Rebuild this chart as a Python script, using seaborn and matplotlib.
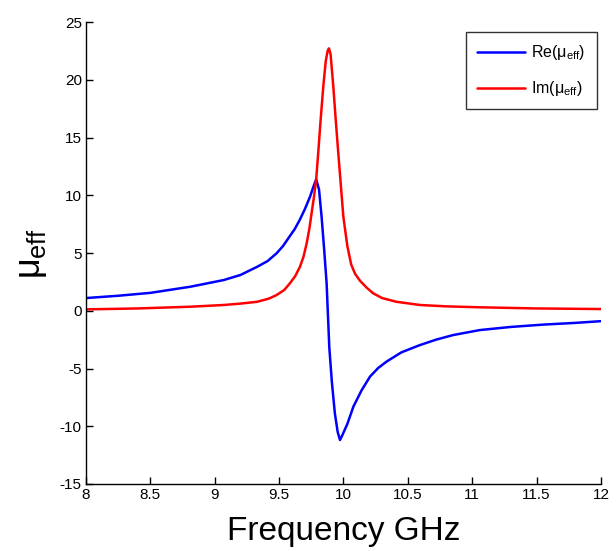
import matplotlib
matplotlib.use("Agg")
import matplotlib.pyplot as plt
import seaborn as sns
import pandas as pd

# Frequencies (GHz) and values
freq_re = [8.0, 8.25, 8.5, 8.81, 9.07, 9.2, 9.33, 9.41, 9.48, 9.53, 9.58, 9.62, 9.66, 9.70,
           9.74, 9.765, 9.788, 9.81, 9.83, 9.85, 9.869, 9.89, 9.91, 9.933, 9.955, 9.973,
           9.99, 10.03, 10.077, 10.14, 10.206, 10.27, 10.335, 10.45, 10.594, 10.72, 10.853,
           11.06, 11.3, 11.55, 11.8, 12.0]
re_mu = [1.1, 1.3, 1.55, 2.08, 2.66, 3.1, 3.81, 4.3, 4.97, 5.6, 6.41, 7.05, 7.86, 8.8,
         9.87, 10.7, 11.38, 10.5, 8.14, 5.3, 2.38, -3.2, -6.2, -8.88, -10.5, -11.19,
         -10.8, -9.8, -8.3, -6.9, -5.7, -4.95, -4.4, -3.6, -2.97, -2.5, -2.1,
         -1.67, -1.4, -1.2, -1.05, -0.9]

freq_im = [8.0, 8.4, 8.81, 9.07, 9.2, 9.33, 9.42, 9.48, 9.54, 9.584, 9.625, 9.662, 9.69,
           9.714, 9.735, 9.753, 9.77, 9.788, 9.804, 9.823, 9.843, 9.862, 9.877, 9.887, 9.9,
           9.921, 9.94, 9.96, 9.98, 9.999, 10.03, 10.06, 10.09, 10.128, 10.18, 10.231, 10.3,
           10.41, 10.594, 10.8, 11.06, 11.5, 12.0]
im_mu = [0.12, 0.2, 0.35, 0.5, 0.62, 0.78, 1.05, 1.36, 1.8, 2.38, 3.0, 3.81, 4.7,
         5.84, 7.1, 8.5, 9.8, 11.38, 13.7, 16.6, 19.4, 21.6, 22.5, 22.72, 22.2,
         19.4, 16.5, 13.6, 10.8, 8.14, 5.6, 4.0, 3.2, 2.6, 2.0, 1.51, 1.1,
         0.78, 0.5, 0.38, 0.3, 0.2, 0.15]

series_labels = [r"Re($\mu_{\mathregular{eff}}$)", r"Im($\mu_{\mathregular{eff}}$)"]
x_ticks = [8, 8.5, 9, 9.5, 10, 10.5, 11, 11.5, 12]
x_ticklabels = ["8", "8.5", "9", "9.5", "10", "10.5", "11", "11.5", "12"]
y_ticks = [-15, -10, -5, 0, 5, 10, 15, 20, 25]

sns.set_style("ticks")
plt.rcParams["font.family"] = ["Liberation Sans", "DejaVu Sans"]
plt.rcParams["mathtext.fontset"] = "custom"
plt.rcParams["mathtext.rm"] = "Liberation Sans"
plt.rcParams["mathtext.it"] = "Liberation Sans"
plt.rcParams["axes.unicode_minus"] = False
plt.rcParams["xtick.direction"] = "in"
plt.rcParams["ytick.direction"] = "in"
plt.rcParams["text.color"] = "black"
plt.rcParams["axes.labelcolor"] = "black"
plt.rcParams["xtick.color"] = "black"
plt.rcParams["ytick.color"] = "black"

fig = plt.figure(figsize=(6.16, 5.51), dpi=100)
ax = fig.add_axes([0.1396, 0.1216, 0.836, 0.8384])

df_re = pd.DataFrame({"f": freq_re, "v": re_mu})
df_im = pd.DataFrame({"f": freq_im, "v": im_mu})
sns.lineplot(data=df_re, x="f", y="v", ax=ax, color="#0000ff", lw=1.8, label=series_labels[0])
sns.lineplot(data=df_im, x="f", y="v", ax=ax, color="#ff0000", lw=1.8, label=series_labels[1])

ax.set_xlim(8, 12)
ax.set_ylim(-15, 25)
ax.set_xticks(x_ticks)
ax.set_xticklabels(x_ticklabels)
ax.set_yticks(y_ticks)
ax.tick_params(labelsize=11, length=5, width=1, pad=3)
sns.despine(ax=ax)
for s in ["left", "bottom"]:
    ax.spines[s].set_linewidth(1.0)
    ax.spines[s].set_color("black")

ax.set_xlabel("Frequency GHz", fontsize=24, labelpad=10)
ax.set_ylabel(r"$\mu_{\mathregular{eff}}$", fontsize=26, labelpad=8)

leg = ax.legend(loc="upper right", bbox_to_anchor=(0.992, 0.978), fontsize=11.5,
                frameon=True, fancybox=False, edgecolor="black", handlelength=3.0,
                handletextpad=0.4, borderpad=0.7, labelspacing=1.05, borderaxespad=0)
leg.get_frame().set_linewidth(1.0)

fig.savefig("out.png", dpi=100)
